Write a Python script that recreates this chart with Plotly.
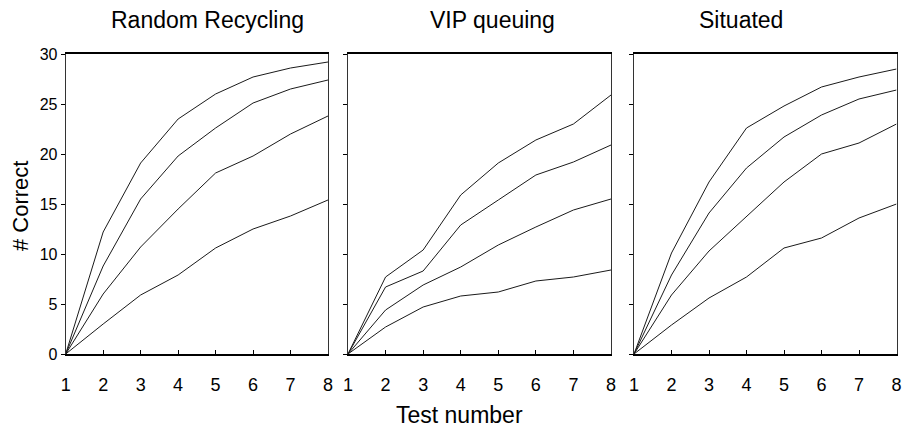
import plotly.graph_objects as go

tests = [1, 2, 3, 4, 5, 6, 7, 8]
panel_titles = ["Random Recycling", "VIP queuing", "Situated"]

random_recycling = [
    [0, 12.2, 19.1, 23.5, 26.0, 27.7, 28.6, 29.2],
    [0, 8.8, 15.5, 19.8, 22.6, 25.1, 26.5, 27.4],
    [0, 6.0, 10.7, 14.5, 18.1, 19.8, 22.0, 23.8],
    [0, 3.0, 5.9, 7.9, 10.6, 12.5, 13.8, 15.4],
]
vip_queuing = [
    [0, 7.7, 10.4, 15.9, 19.1, 21.4, 23.0, 25.9],
    [0, 6.7, 8.3, 12.9, 15.4, 17.9, 19.2, 20.9],
    [0, 4.4, 6.9, 8.7, 10.9, 12.7, 14.4, 15.5],
    [0, 2.7, 4.7, 5.8, 6.2, 7.3, 7.7, 8.4],
]
situated = [
    [0, 10.1, 17.2, 22.6, 24.8, 26.7, 27.7, 28.5],
    [0, 7.9, 14.1, 18.6, 21.7, 23.9, 25.5, 26.4],
    [0, 5.9, 10.3, 13.8, 17.2, 20.0, 21.1, 23.0],
    [0, 2.9, 5.6, 7.7, 10.6, 11.6, 13.6, 15.0],
]
y_ticks = [0, 5, 10, 15, 20, 25, 30]

W, H = 903, 430


def px_x(p):
    return p / W


def px_y(p):
    return 1 - p / H


panels = [random_recycling, vip_queuing, situated]
x_px = [(65.7, 328.0), (348.0, 611.0), (634.0, 896.5)]
title_px = [207, 492, 741]
y_top, y_bot = 54.0, 354.0

FONT = "Liberation Sans, Arial, sans-serif"
fig = go.Figure()

for i, series in enumerate(panels):
    n = "" if i == 0 else str(i + 1)
    for s in series:
        fig.add_trace(go.Scatter(
            x=tests, y=s, mode="lines",
            line=dict(color="#1a1a1a", width=1),
            xaxis="x" + n, yaxis="y" + n, showlegend=False,
            hoverinfo="skip"))
    fig.layout["xaxis" + n] = dict(
        domain=[px_x(x_px[i][0]), px_x(x_px[i][1])],
        range=[1, 8], tickvals=tests, ticktext=[str(t) for t in tests],
        ticks="inside", ticklen=4, tickcolor="black", tickwidth=1,
        ticklabelstandoff=13,
        showline=True, linecolor="black", linewidth=2, mirror=True,
        showgrid=False, zeroline=False, anchor="y" + n, automargin=False,
        tickfont=dict(family=FONT, size=18, color="black"),
        fixedrange=True)
    fig.layout["yaxis" + n] = dict(
        domain=[px_y(y_bot), px_y(y_top)],
        range=[0, 30], tickvals=y_ticks,
        showticklabels=(i == 0),
        ticks="outside", ticklen=4, tickcolor="black", tickwidth=1,
        showline=True, linecolor="#333333", linewidth=1, mirror=True,
        showgrid=False, zeroline=False, anchor="x" + n, automargin=False,
        tickfont=dict(family=FONT, size=16, color="black"),
        fixedrange=True)
    fig.add_annotation(text=panel_titles[i], x=px_x(title_px[i]), y=px_y(20),
                       xref="paper", yref="paper", showarrow=False,
                       xanchor="center", yanchor="middle",
                       font=dict(family=FONT, size=23, color="black"))

fig.add_annotation(text="Test number", x=px_x(459), y=px_y(415),
                   xref="paper", yref="paper", showarrow=False,
                   xanchor="center", yanchor="middle",
                   font=dict(family=FONT, size=23, color="black"))
fig.add_annotation(text="# Correct", x=px_x(20), y=px_y(206),
                   xref="paper", yref="paper", showarrow=False, textangle=-90,
                   xanchor="center", yanchor="middle",
                   font=dict(family=FONT, size=22, color="black"))

fig.update_layout(width=W, height=H, margin=dict(l=0, r=0, t=0, b=0),
                  paper_bgcolor="white", plot_bgcolor="white")
fig.write_html("out.html", config={"displayModeBar": False},
               post_script="document.body.style.margin='0px';"
                           "document.body.style.overflow='hidden';")
